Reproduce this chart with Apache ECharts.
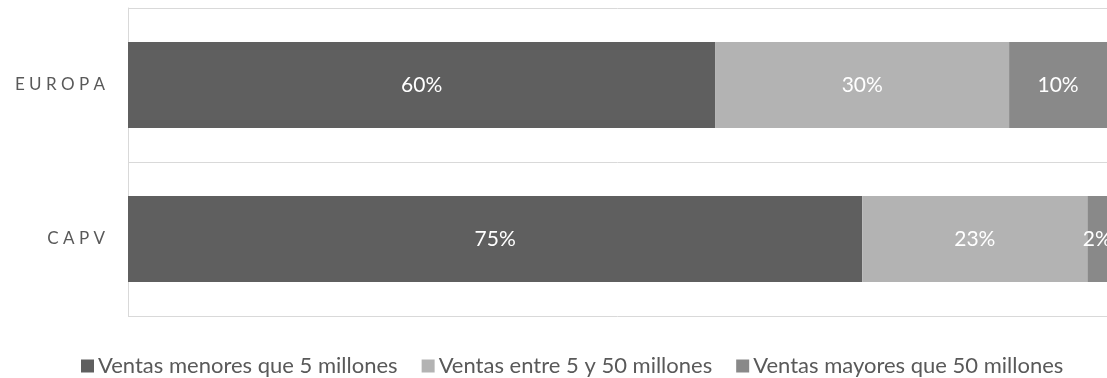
<!DOCTYPE html>
<html>
<head>
<meta charset="utf-8">
<script src="https://cdn.jsdelivr.net/npm/echarts@6/dist/echarts.min.js"></script>
<style>
  html, body { margin: 0; padding: 0; background: #ffffff; }
  #chart { width: 1107px; height: 378px; }
</style>
</head>
<body>
<div id="chart"></div>
<script>
// Regions, listed bottom-to-top so EUROPA is drawn on top
const categories = ['CAPV', 'EUROPA'];
const seriesNames = [
  'Ventas menores que 5 millones',
  'Ventas entre 5 y 50 millones',
  'Ventas mayores que 50 millones'
];
const menores = [75, 60];
const entre = [23, 30];
const mayores = [2, 10];
const colors = ['#5f5f5f', '#b3b3b3', '#898989'];

const FONT = 'Lato, "Open Sans", sans-serif';

function barSeries(name, data, color) {
  return {
    name: name,
    type: 'bar',
    stack: 'total',
    barWidth: 86,
    data: data,
    itemStyle: { color: color },
    label: {
      show: true,
      position: 'inside',
      formatter: '{c}%',
      color: '#ffffff',
      fontFamily: FONT,
      fontSize: 21
    }
  };
}

const chart = echarts.init(document.getElementById('chart'));
chart.setOption({
  animation: false,
  grid: { left: 128, right: 0, top: 8, bottom: 62 },
  xAxis: {
    type: 'value',
    min: 0,
    max: 100,
    axisLabel: { show: false },
    axisLine: { show: false },
    axisTick: { show: false },
    splitLine: { show: false }
  },
  yAxis: {
    type: 'category',
    data: categories,
    axisLine: { show: true, lineStyle: { color: '#d9d9d9', width: 1 } },
    axisTick: { show: false },
    splitLine: { show: true, lineStyle: { color: '#d9d9d9', width: 1 } },
    axisLabel: {
      color: '#595959',
      fontFamily: FONT,
      fontSize: 17,
      margin: 23,
      formatter: function (v) { return v.split('').join(' '); }
    }
  },
  legend: {
    left: 76,
    top: 350,
    itemWidth: 13,
    itemHeight: 13,
    itemGap: 24,
    icon: 'rect',
    textStyle: { color: '#595959', fontFamily: FONT, fontSize: 22, padding: [0, 0, 0, -1] },
    data: seriesNames
  },
  series: [
    barSeries(seriesNames[0], menores, colors[0]),
    barSeries(seriesNames[1], entre, colors[1]),
    barSeries(seriesNames[2], mayores, colors[2])
  ]
});
</script>
</body>
</html>
